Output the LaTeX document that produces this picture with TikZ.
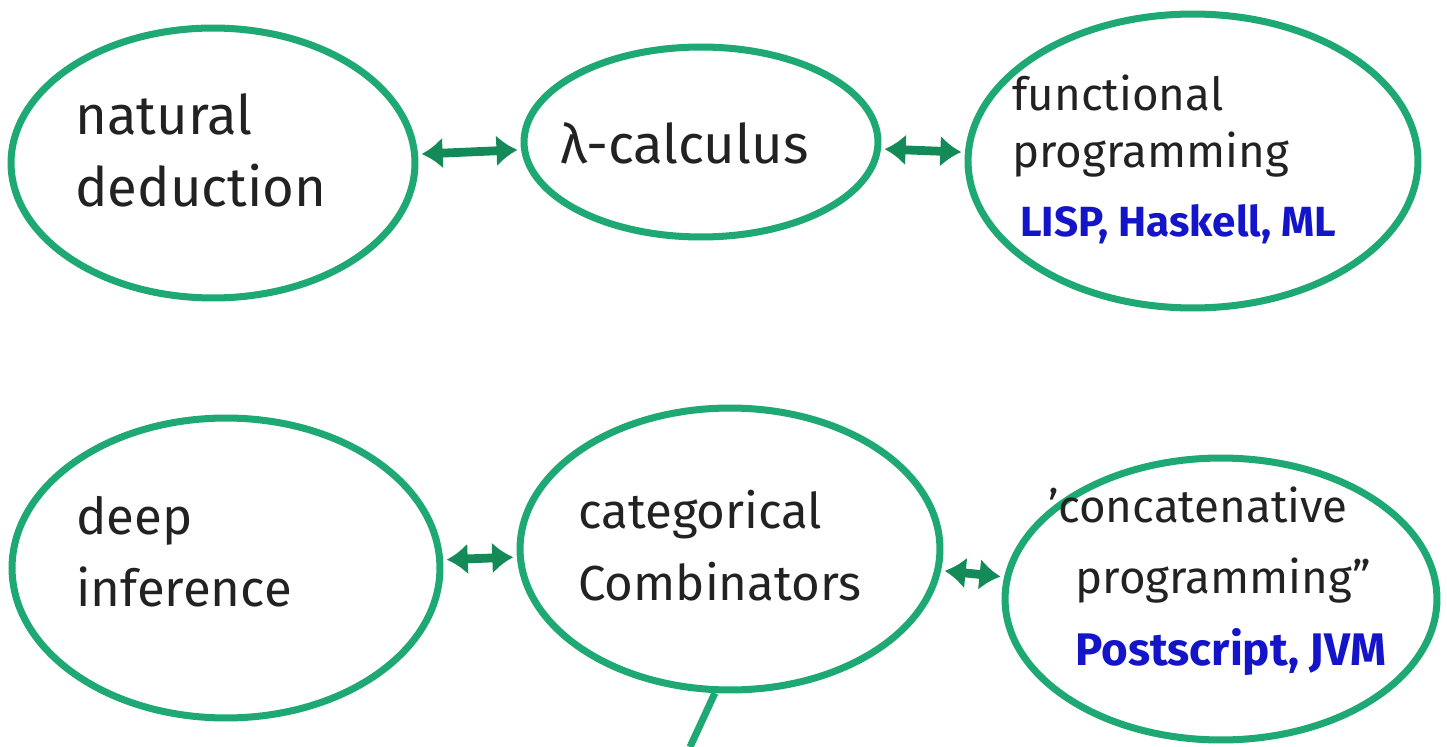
\documentclass[tikz,border=0pt]{standalone}
\usepackage{fontspec}
\setmainfont{Fira Sans}
\usetikzlibrary{shapes.geometric,arrows.meta}

\definecolor{pengreen}{HTML}{1DA874}
\definecolor{arrowgreen}{HTML}{138A58}
\definecolor{penblue}{HTML}{1414C8}
\definecolor{ink}{HTML}{222222}

\tikzset{
  blob/.style={ellipse, draw=pengreen, line width=4pt, inner sep=0pt},
  words/.style={anchor=west, align=left, text=ink, inner sep=0pt, font=\fontsize{31}{41}\selectfont},
  langs/.style={anchor=west, text=penblue, inner sep=0pt, font=\bfseries\fontsize{24}{28}\selectfont},
  link/.style={draw=arrowgreen, line width=5pt, {Latex[length=12pt,width=18pt]}-{Latex[length=12pt,width=18pt]}, shorten <=2pt, shorten >=2pt},
}

\begin{document}
\begin{tikzpicture}[x=0.02cm, y=-0.02cm]
    \useasboundingbox (0,0) rectangle (1447,747);

    % top row
    \node[blob, minimum width=8.08cm, minimum height=5.4cm] (nd) at (213,163) {};
    \node[blob, minimum width=7.08cm, minimum height=3.8cm] (lc) at (701,142) {};
    \node[blob, minimum width=9.0cm, minimum height=5.88cm] (fp) at (1193,161) {};
    \node[words] (ndtext) at (75,150) {natural\\deduction};
    \node[words] (lctext) at (560,143) {λ-calculus};
    \node[words, font=\fontsize{26}{32}\selectfont] (fptext) at (1012,126) {functional\\programming};
    \node[langs] (fplang) at (1020,224) {LISP, Haskell, ML};
    \draw[link] (nd) -- (lc);
    \draw[link] (lc) -- (fp);

    % bottom row
    \node[blob, minimum width=8.56cm, minimum height=6.0cm] (di) at (226,568) {};
    \node[blob, minimum width=8.4cm, minimum height=5.64cm] (cc) at (730,549) {};
    \node[blob, minimum width=8.64cm, minimum height=5.64cm] (cp) at (1221,599) {};
    \node[words, font=\fontsize{29}{41}\selectfont] (ditext) at (76,552) {deep\\inference};
    \node[words, font=\fontsize{28}{41}\selectfont] (cctext) at (578,546) {categorical\\Combinators};
    \node[words, font=\fontsize{26}{40}\selectfont] (cptext) at (1048,545) {'concatenative\\\hspace{0.6em}programming''};
    \node[langs, font=\bfseries\fontsize{26}{30}\selectfont] (cplang) at (1075,652) {Postscript, JVM};
    \draw[link] (di) -- (cc);
    \draw[link] (cc) -- (cp);

    % leaves the page
    \coordinate (down) at (690,747);
    \draw[pengreen, line width=4pt] (cc.-96) -- (down);

\end{tikzpicture}
\end{document}
